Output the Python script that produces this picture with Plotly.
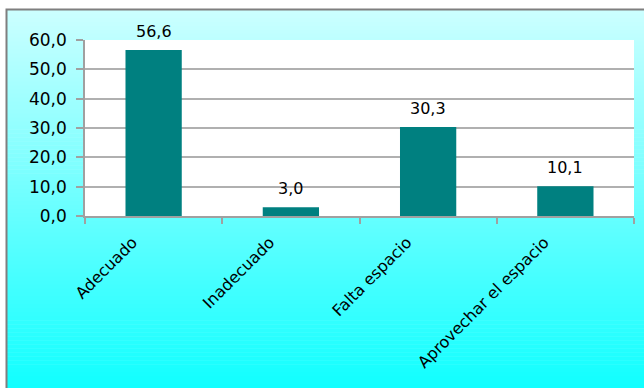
import plotly.graph_objects as go

# Survey answers and their percentages
categories = ["Adecuado", "Inadecuado", "Falta espacio", "Aprovechar el espacio"]
values = [56.6, 3.0, 30.3, 10.1]
y_ticks = [0, 10, 20, 30, 40, 50, 60]

W, H = 644, 388
ML, MR, MT, MB = 85, 10, 40, 172
PW, PH = W - ML - MR, H - MT - MB


def px_x(p):
    return (p - ML) / PW


def px_y(p):
    return (H - MB - p) / PH


fig = go.Figure()
fig.add_trace(go.Bar(
    x=categories, y=values,
    marker=dict(color="#008080", line=dict(width=0)),
    hoverinfo="skip",
))

# value labels above each bar
for c, v in zip(categories, values):
    fig.add_annotation(
        x=c, y=v, text=f"{v:.1f}".replace(".", ","),
        showarrow=False, yanchor="bottom", yshift=7,
        font=dict(family="DejaVu Sans", size=16, color="#000000"),
    )

# vertical gradient background: light cyan to cyan
shapes = []
top, bottom = 10, H
n = 95
c0 = (0xcc, 0xff, 0xff)
c1 = (0x10, 0xff, 0xff)
for i in range(n):
    y0 = top + (bottom - top) * i / n
    y1 = top + (bottom - top) * (i + 1) / n
    t = (i + 0.5) / n
    col = "rgb({},{},{})".format(*[round(a + (b - a) * t) for a, b in zip(c0, c1)])
    shapes.append(dict(
        type="rect", xref="paper", yref="paper", layer="below",
        x0=px_x(7), x1=px_x(W + 5), y0=px_y(y1 + 0.5), y1=px_y(y0),
        fillcolor=col, line=dict(width=0),
    ))
# white plotting area
shapes.append(dict(
    type="rect", xref="paper", yref="paper", layer="below",
    x0=0, x1=1, y0=0, y1=1,
    fillcolor="white", line=dict(width=0),
))
# chart frame
shapes.append(dict(
    type="rect", xref="paper", yref="paper", layer="below",
    x0=px_x(6.5), x1=px_x(W + 5), y0=px_y(H + 5), y1=px_y(9.5),
    fillcolor="rgba(0,0,0,0)", line=dict(color="#7f7f7f", width=2),
))

fig.update_layout(
    width=W, height=H,
    margin=dict(l=ML, r=MR, t=MT, b=MB),
    paper_bgcolor="white", plot_bgcolor="white",
    separators=",.",
    showlegend=False,
    bargap=0.59,
    shapes=shapes,
    font=dict(family="DejaVu Sans", size=16, color="#000000"),
    xaxis=dict(
        type="category", tickangle=-45, tickson="boundaries",
        ticks="outside", ticklen=6, tickcolor="#a0a0a0", tickwidth=1.5,
        showline=True, linecolor="#a0a0a0", linewidth=1.5,
        showgrid=False, tickfont=dict(size=16),
        ticklabelshift=-21, ticklabelstandoff=9,
    ),
    yaxis=dict(
        range=[0, 60], tickvals=y_ticks, tickformat=".1f",
        ticks="outside", ticklen=7, tickcolor="#a0a0a0", tickwidth=1.5,
        showline=True, linecolor="#a0a0a0", linewidth=1.5,
        showgrid=True, gridcolor="#b0b0b0", gridwidth=1.5,
        zeroline=False, tickfont=dict(size=17),
        ticklabelstandoff=6,
    ),
)

fig.write_html("out.html")
